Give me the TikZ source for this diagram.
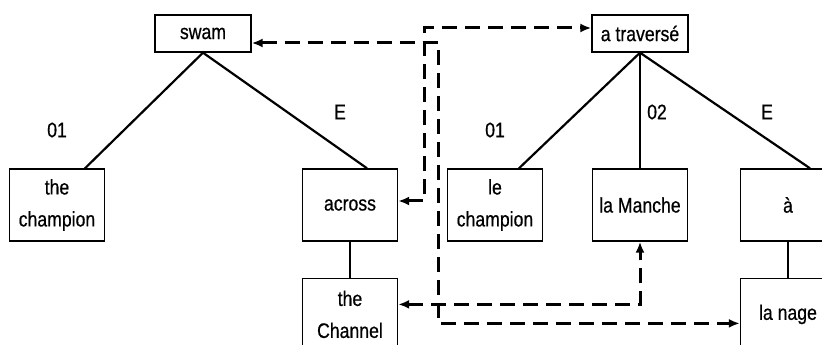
\documentclass[tikz,border=0pt]{standalone}
\usepackage{fontspec}
\setmainfont[FakeStretch=0.84, FakeBold=0.6]{Liberation Sans}
\usepackage{tikz}
\usetikzlibrary{arrows.meta,calc,positioning}

\begin{document}
\begin{tikzpicture}[
  x=1pt, y=1pt,
  box/.style={rectangle, draw, line width=1.4pt, minimum width=95pt,
              minimum height=72pt, inner sep=2pt, align=center,
              font=\fontsize{21}{32}\selectfont},
  topbox/.style={box, minimum width=96pt, minimum height=37pt},
  edge/.style={line width=2.2pt},
  lbl/.style={font=\fontsize{21}{22}\selectfont, inner sep=0pt},
  link/.style={<->, >={Latex[length=11pt,width=9pt]}, line width=3pt,
                dash pattern=on 15pt off 8pt},
]
\useasboundingbox (0,0) rectangle (822,345);

% English tree
\node[topbox] (swam) at (203,311.5) {swam};
\node[box] (thechamp) at (57,140) {the\\champion};
\node[box] (across) at (350,140) {across};
\node[box, below=36pt of across] (channel) {the\\Channel};

% French tree
\node[topbox] (trav) at (640,311.5) {a traversé};
\node[box] (lechamp) at (495,140) {le\\champion};
\node[box] (manche) at (640,140) {la Manche};
\node[box] (a) at (788,140) {à};
\node[box, below=36pt of a] (nage) {la nage};

\draw[edge] (swam.south) -- ([xshift=28pt]thechamp.north);
\draw[edge] (swam.south) -- ([xshift=17pt]across.north);
\draw[edge] (across) -- (channel);

\draw[edge] (trav.south) -- ([xshift=24pt]lechamp.north);
\draw[edge] (trav.south) -- (manche.north);
\draw[edge] (trav.south) -- ([xshift=22pt]a.north);
\draw[edge] (a) -- (nage);

% role labels
\node[lbl] (lswamO) at (57,215) {01};
\node[lbl] (lswamE) at (340,233) {E};
\node[lbl] (ltravO) at (495,215) {01};
\node[lbl] (ltravT) at (657,233) {02};
\node[lbl] (ltravE) at (767,233) {E};

% alignments
\draw[link] ([yshift=-9.5pt]swam.east) -- ++(187pt,0) |- ([yshift=-9pt]nage.west);
\draw[link] ([yshift=4pt]across.east) -- ++(26pt,0) |- ([yshift=5.5pt]trav.west);
\draw[link] ([yshift=10pt]channel.east) -| (manche.south);

\end{tikzpicture}
\end{document}
